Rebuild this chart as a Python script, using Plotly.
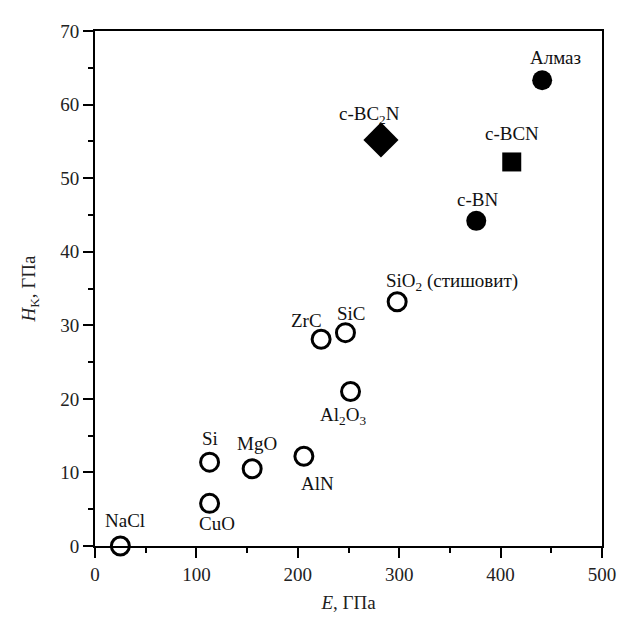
import plotly.graph_objects as go

# Data
names = ["NaCl", "Si", "CuO", "MgO", "AlN", "Al<sub>2</sub>O<sub>3</sub>", "ZrC", "SiC",
         "SiO<sub>2</sub> (стишовит)", "c-BN", "c-BCN", "c-BC<sub>2</sub>N", "Алмаз"]
E_vals = [25, 113, 113, 155, 206, 252, 223, 247, 298, 376, 411, 282, 441]
H_vals = [0, 11.4, 5.8, 10.5, 12.2, 21, 28.1, 29, 33.2, 44.2, 52.2, 55.2, 63.3]
kinds = ["open"] * 9 + ["circle", "square", "diamond", "circle"]

# label offsets in px (dx right, dy up)
label_dx = [5, 0, 7, 5, 14, -8, -15, 6, 55, 1, 0, -11, 13]
label_dy = [26, 24, -20, 25, -27, -24, 19, 19, 20, 21, 28, 25, 23]

FONT = "Liberation Serif, Times New Roman, serif"

fig = go.Figure()

def pick(kind):
    return [i for i, k in enumerate(kinds) if k == kind]

styles = {
    "open": dict(symbol="circle-open", size=18, color="black", line=dict(width=3, color="black")),
    "circle": dict(symbol="circle", size=20, color="black"),
    "square": dict(symbol="square", size=19, color="black"),
    "diamond": dict(symbol="diamond", size=27, color="black"),
}
for kind, st in styles.items():
    idx = pick(kind)
    fig.add_trace(go.Scatter(
        x=[E_vals[i] for i in idx], y=[H_vals[i] for i in idx],
        mode="markers", marker=st, showlegend=False, cliponaxis=False))

for n, x, y, dx, dy in zip(names, E_vals, H_vals, label_dx, label_dy):
    fig.add_annotation(x=x, y=y, text=n, showarrow=False, xshift=dx, yshift=dy,
                       font=dict(family=FONT, size=19, color="#111"))

axis_common = dict(
    showline=True, linecolor="black", linewidth=2, mirror=True,
    ticks="outside", ticklen=10, tickwidth=2, tickcolor="black",
    showgrid=False, zeroline=False, automargin=False,
    tickfont=dict(family=FONT, size=19, color="#222"),
    minor=dict(ticks="outside", ticklen=5, tickwidth=1.5, tickcolor="black"),
)

fig.update_xaxes(range=[0, 500], dtick=100, **axis_common,
                 title=dict(text="<i>E</i>, ГПа", font=dict(family=FONT, size=19, color="#222"), standoff=12))
fig.update_yaxes(range=[0, 70], dtick=10, **axis_common,
                 title=dict(text="<i>H</i><sub>K</sub>, ГПа", font=dict(family=FONT, size=19, color="#222"), standoff=20))
fig.update_xaxes(minor=dict(dtick=50))
fig.update_yaxes(minor=dict(dtick=5))

fig.update_layout(
    width=619, height=617,
    margin=dict(l=95, r=17, t=31, b=71),
    plot_bgcolor="white", paper_bgcolor="white",
)

fig.write_html("out.html", config={"displayModeBar": False},
               post_script="document.body.style.margin='0px';document.body.style.overflow='hidden';")
